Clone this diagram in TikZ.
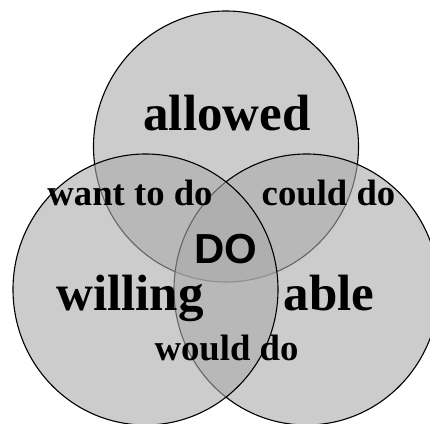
\documentclass[tikz,border=0pt]{standalone}
\usepackage{fontspec}
\setmainfont{Liberation Serif}
\newfontfamily\arialfont{Liberation Sans}
\begin{document}
\begin{tikzpicture}[x=1pt,y=-1pt,
  setcircle/.style={draw=black,line width=1.1pt,fill=black!33.3,fill opacity=0.6},
  bigtext/.style={inner sep=0pt,anchor=base,font=\bfseries\fontsize{51}{51}\selectfont},
  midtext/.style={inner sep=0pt,anchor=base,font=\bfseries\fontsize{36.7}{36.7}\selectfont},
  dotext/.style={inner sep=0pt,anchor=base,font=\arialfont\bfseries\fontsize{42}{42}\selectfont}]
\useasboundingbox (0,0) rectangle (430,423);
\begin{scope}
\clip (0,0) rectangle (430,423);
\path[setcircle] (226,146.5) ellipse [x radius=132.5pt, y radius=135.5pt];
\path[setcircle] (306.5,289.5) ellipse [x radius=132.5pt, y radius=135.5pt];
\path[setcircle] (145.5,289.5) ellipse [x radius=132.5pt, y radius=135.5pt];
\end{scope}
\node[bigtext] (allowed) at (227,130) {allowed};
\node[midtext] (want) at (130,205) {want to do};
\node[midtext] (could) at (328.5,205) {could do};
\node[dotext] (do) at (225.5,263) {DO};
\node[bigtext] (willing) at (130,310) {willing};
\node[bigtext] (able) at (329,310) {able};
\node[midtext] (would) at (226.5,360) {would do};
\end{tikzpicture}
\end{document}
